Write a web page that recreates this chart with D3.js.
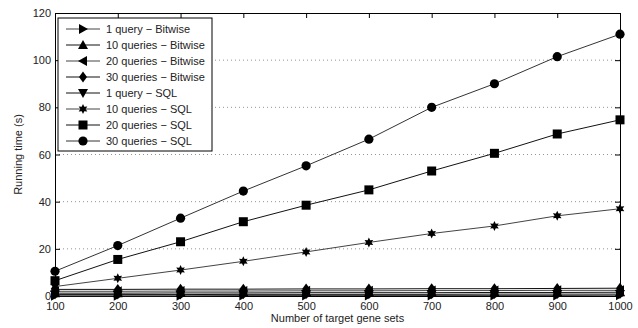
<!DOCTYPE html>
<html>
<head>
<meta charset="utf-8">
<script src="https://cdn.jsdelivr.net/npm/d3@7"></script>
<style>
  html, body { margin: 0; padding: 0; background: #fff; }
  svg { display: block; font-family: "Liberation Sans", Arial, sans-serif; }
</style>
</head>
<body>
<svg id="chart" width="638" height="328"></svg>
<script>
// Number of target gene sets
const geneSets = [100, 200, 300, 400, 500, 600, 700, 800, 900, 1000];

// Running time (s) per configuration
const bitwise1  = [0.1, 0.1, 0.1, 0.2, 0.2, 0.2, 0.2, 0.2, 0.2, 0.3];
const bitwise10 = [1.2, 1.2, 1.3, 1.3, 1.4, 1.4, 1.4, 1.5, 1.5, 1.6];
const bitwise20 = [2.0, 2.0, 2.1, 2.1, 2.2, 2.2, 2.3, 2.3, 2.4, 2.4];
const bitwise30 = [2.8, 2.8, 2.9, 2.9, 3.0, 3.0, 3.1, 3.1, 3.2, 3.3];
const sql1      = [0.6, 0.6, 0.6, 0.7, 0.7, 0.7, 0.7, 0.8, 0.8, 0.8];
const sql10     = [4.0, 7.5, 11.0, 14.7, 18.7, 22.7, 26.5, 29.7, 34.0, 37.0];
const sql20     = [6.5, 15.5, 23.0, 31.5, 38.5, 45.0, 53.0, 60.5, 68.7, 74.7];
const sql30     = [10.5, 21.4, 33.0, 44.5, 55.2, 66.5, 80.0, 90.0, 101.5, 111.0];

const xTicks = [100, 200, 300, 400, 500, 600, 700, 800, 900, 1000];
const yTicks = [0, 20, 40, 60, 80, 100, 120];

const seriesNames = [
  "1 query \u2212 Bitwise", "10 queries \u2212 Bitwise", "20 queries \u2212 Bitwise", "30 queries \u2212 Bitwise",
  "1 query \u2212 SQL", "10 queries \u2212 SQL", "20 queries \u2212 SQL", "30 queries \u2212 SQL"
];
const seriesValues = [bitwise1, bitwise10, bitwise20, bitwise30, sql1, sql10, sql20, sql30];
const seriesMarkers = ["triRight", "triUp", "triLeft", "diamond", "triDown", "star", "square", "circle"];
const seriesStroke = ["#444", "#111", "#444", "#111", "#111", "#444", "#111", "#333"];

const series = seriesNames.map((name, i) => ({
  name, marker: seriesMarkers[i], stroke: seriesStroke[i],
  points: geneSets.map((g, j) => ({ x: g, y: seriesValues[i][j] }))
}));

// Marker outlines centred on the origin
function markerPath(type) {
  const p = d3.path();
  switch (type) {
    case "triRight": p.moveTo(-4, -5); p.lineTo(5, 0); p.lineTo(-4, 5); p.closePath(); break;
    case "triLeft":  p.moveTo(4, -5); p.lineTo(-5, 0); p.lineTo(4, 5); p.closePath(); break;
    case "triUp":    p.moveTo(0, -5); p.lineTo(5, 4); p.lineTo(-5, 4); p.closePath(); break;
    case "triDown":  p.moveTo(0, 5); p.lineTo(5, -4); p.lineTo(-5, -4); p.closePath(); break;
    case "diamond":  p.moveTo(0, -5.5); p.lineTo(4, 0); p.lineTo(0, 5.5); p.lineTo(-4, 0); p.closePath(); break;
    case "square":   p.rect(-4.5, -4.5, 9, 9); break;
    case "circle":   p.arc(0, 0, 4.6, 0, 2 * Math.PI); p.closePath(); break;
    case "star": {
      // six-pointed star
      for (let k = 0; k < 12; k++) {
        const r = k % 2 === 0 ? 5 : 2.6;
        const a = -Math.PI / 2 + k * Math.PI / 6;
        const px = r * Math.cos(a), py = r * Math.sin(a);
        if (k === 0) p.moveTo(px, py); else p.lineTo(px, py);
      }
      p.closePath();
      break;
    }
  }
  return p.toString();
}

const svg = d3.select("#chart");
const margin = { left: 55, right: 18, top: 13, bottom: 32 };
const W = 638, H = 328;
const x = d3.scaleLinear().domain([100, 1000]).range([margin.left, W - margin.right]);
const y = d3.scaleLinear().domain([0, 120]).range([H - margin.bottom, margin.top]);

// Dotted horizontal grid
svg.append("g").selectAll("line")
  .data(yTicks.filter(t => t > 0 && t < 120))
  .join("line")
  .attr("x1", x(100)).attr("x2", x(1000))
  .attr("y1", d => y(d)).attr("y2", d => y(d))
  .attr("stroke", "#777").attr("stroke-width", 0.8)
  .attr("stroke-dasharray", "1,3");

// Axes with inward ticks on all four sides
const fmt = d3.format("d");
const axisBottom = svg.append("g").attr("transform", `translate(0,${y(0)})`)
  .call(d3.axisBottom(x).tickValues(xTicks).tickFormat(fmt).tickSizeInner(-5).tickSizeOuter(0).tickPadding(6));
const axisTop = svg.append("g").attr("transform", `translate(0,${y(120)})`)
  .call(d3.axisTop(x).tickValues(xTicks).tickFormat("").tickSizeInner(-5).tickSizeOuter(0));
const axisLeft = svg.append("g").attr("transform", `translate(${x(100)},0)`)
  .call(d3.axisLeft(y).tickValues(yTicks).tickFormat(fmt).tickSizeInner(-5).tickSizeOuter(0).tickPadding(4));
const axisRight = svg.append("g").attr("transform", `translate(${x(1000)},0)`)
  .call(d3.axisRight(y).tickValues(yTicks).tickFormat("").tickSizeInner(-5).tickSizeOuter(0));

[axisBottom, axisTop, axisLeft, axisRight].forEach(g => {
  g.select(".domain").attr("stroke", "#000").attr("stroke-width", 1);
  g.selectAll(".tick line").attr("stroke", "#000");
  g.selectAll("text").attr("fill", "#222").style("font-size", "11px")
    .style("font-family", "'Liberation Sans', Arial, sans-serif");
});

// Series lines and markers
const line = d3.line().x(d => x(d.x)).y(d => y(d.y));
const gSeries = svg.append("g");
series.forEach(s => {
  gSeries.append("path")
    .datum(s.points)
    .attr("d", line)
    .attr("fill", "none")
    .attr("stroke", s.stroke)
    .attr("stroke-width", 1);
});
series.forEach(s => {
  gSeries.append("g").selectAll("path")
    .data(s.points)
    .join("path")
    .attr("d", markerPath(s.marker))
    .attr("transform", d => `translate(${x(d.x)},${y(d.y)})`)
    .attr("fill", "#000");
});

// Axis titles
svg.append("text")
  .attr("x", (x(100) + x(1000)) / 2).attr("y", 322)
  .attr("text-anchor", "middle")
  .style("font-size", "11px").attr("fill", "#222")
  .text("Number of target gene sets");
svg.append("text")
  .attr("transform", `translate(22,${(y(0) + y(120)) / 2}) rotate(-90)`)
  .attr("text-anchor", "middle")
  .style("font-size", "11px").attr("fill", "#222")
  .text("Running time (s)");

// Legend
const legend = svg.append("g").attr("transform", "translate(58,18)");
legend.append("rect")
  .attr("width", 154).attr("height", 133)
  .attr("fill", "#fff").attr("stroke", "#000").attr("stroke-width", 1);
const rowH = 16;
const rows = legend.selectAll("g.row").data(series).join("g")
  .attr("class", "row")
  .attr("transform", (d, i) => `translate(0,${11 + i * rowH})`);
rows.append("line")
  .attr("x1", 8).attr("x2", 42).attr("y1", 0).attr("y2", 0)
  .attr("stroke", d => d.stroke).attr("stroke-width", 1);
rows.append("path")
  .attr("d", d => markerPath(d.marker))
  .attr("transform", "translate(25,0)")
  .attr("fill", "#000");
rows.append("text")
  .attr("x", 48).attr("y", 4)
  .style("font-size", "11px").attr("fill", "#222")
  .text(d => d.name);
</script>
</body>
</html>
